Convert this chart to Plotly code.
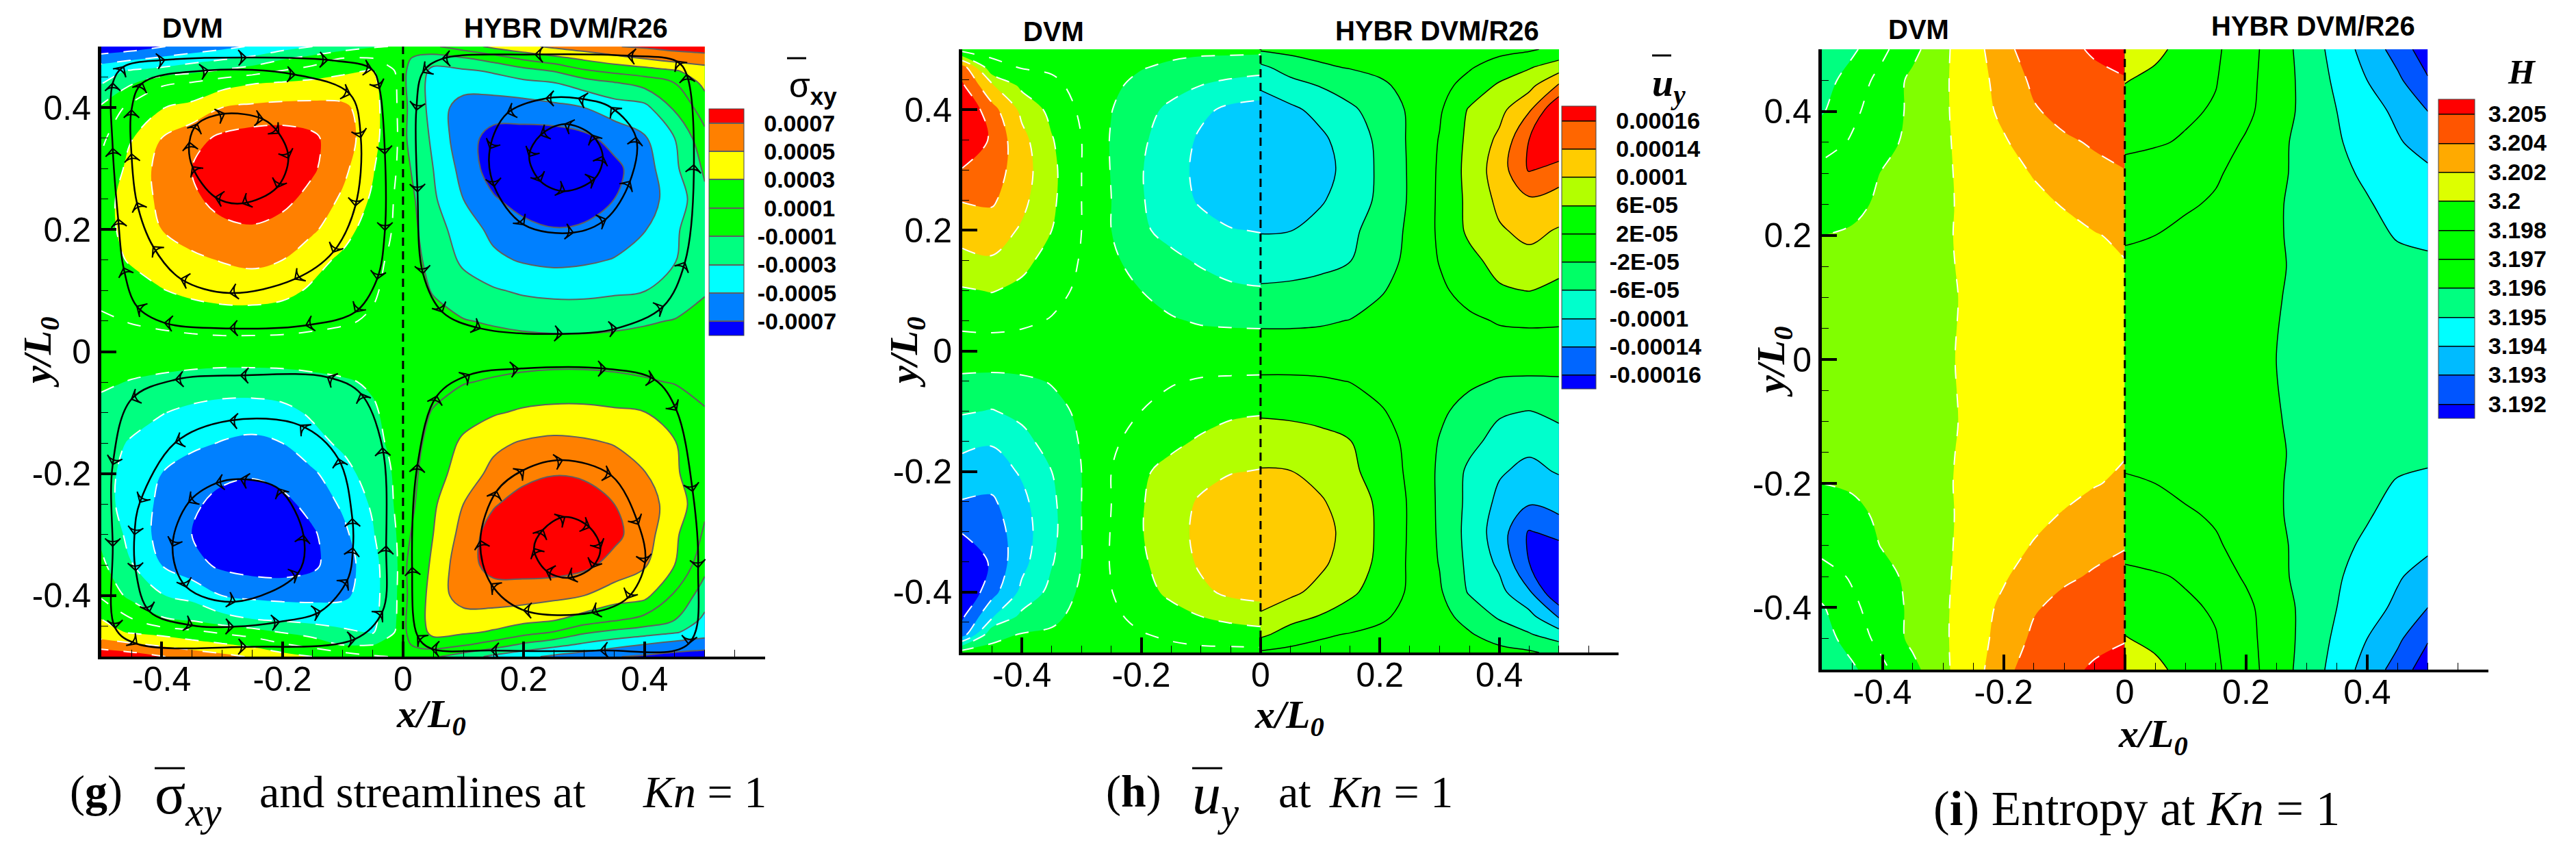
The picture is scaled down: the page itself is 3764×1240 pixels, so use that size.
import numpy as np
import plotly.graph_objects as go

W, H = 3764, 1240
PAGE = 8  # the page body sets the figure 8 px in from the corner

# panel (g): shear stress, in units of 1e-4
sxy_levels = [-7, -5, -3, -1, 1, 3, 5, 7]
sxy_labels = ["-0.0007", "-0.0005", "-0.0003", "-0.0001", "\u00a00.0001", "\u00a00.0003", "\u00a00.0005", "\u00a00.0007"]
sxy_colors = ["#0000ff", "#0080ff", "#00ffff", "#00ff80", "#00ff00", "#00ff00", "#ffff00", "#ff8000", "#ff0000"]
sxy_y = [.5, .48, .46, .44, .4, .35, .3, .25, .2, .15, .1, .05, 0, -.05, -.1, -.15, -.2, -.25, -.3, -.35, -.4, -.44, -.46, -.48, -.5]
sxy_left_x = [-.5, -.45, -.4, -.35, -.3, -.25, -.2, -.15, -.1, -.05, -.025, 0]
sxy_right_x = [0, .025, .05, .1, .15, .2, .25, .3, .35, .4, .45, .5]
sxy_left = [
    [-8.5, -8, -7.1, -6.3, -5.6, -4.8, -3.9, -3, -2.2, -1.2, -1, -.6],
    [-6, -5.3, -4.6, -3.9, -3.2, -2.5, -1.2, -.2, 1.2, 1.1, .5, .2],
    [-3.7, -2.8, -2.3, -1.5, -.7, .1, 1.1, 1.9, 2.5, 3.2, 1.4, .5],
    [-3.1, -1.2, .7, 1.2, 2.2, 2.9, 3.2, 3.5, 4, 3.7, 1.5, .6],
    [-.7, 1.6, 2.9, 3.6, 5, 5.4, 5.6, 5.6, 5.3, 4.2, 1.6, .6],
    [.6, 2.9, 5, 6.3, 7.4, 7.9, 8, 7.4, 5.8, 4, 1.7, .6],
    [1.4, 3.6, 5.7, 7, 8.2, 8.7, 8.5, 7.3, 5.5, 3.2, 1.5, .6],
    [2.2, 3.9, 5.4, 6.6, 7.7, 8, 7.6, 6.3, 4.7, 2.7, 1.3, .5],
    [2.5, 3.5, 5, 5.9, 6.5, 6.8, 6.2, 5.3, 3.8, 2, 1.2, .4],
    [2.2, 3.2, 4, 4.6, 5.1, 5.4, 5, 3.7, 2.6, 1.4, .9, .3],
    [1.6, 2.2, 2.9, 3.5, 3.9, 4, 3.6, 2.7, 1.8, 1.2, .7, .2],
    [.7, 1.1, 1.4, 1.7, 1.9, 1.9, 1.8, 1.5, 1.2, .8, .4, .1],
    [0, 0, 0, 0, 0, 0, 0, 0, 0, 0, 0, 0],
    [-.7, -1.1, -1.4, -1.7, -1.9, -1.9, -1.8, -1.5, -1.2, -.8, -.4, -.1],
    [-1.6, -2.2, -2.9, -3.5, -3.9, -4, -3.6, -2.7, -1.8, -1.2, -.7, -.2],
    [-2.2, -3.2, -4, -4.6, -5.1, -5.4, -5, -3.7, -2.6, -1.4, -.9, -.3],
    [-2.5, -3.5, -5, -5.9, -6.5, -6.8, -6.2, -5.3, -3.8, -2, -1.2, -.4],
    [-2.2, -3.9, -5.4, -6.6, -7.7, -8, -7.6, -6.3, -4.7, -2.7, -1.3, -.5],
    [-1.4, -3.6, -5.7, -7, -8.2, -8.7, -8.5, -7.3, -5.5, -3.2, -1.5, -.6],
    [-.6, -2.9, -5, -6.3, -7.4, -7.9, -8, -7.4, -5.8, -4, -1.7, -.6],
    [.7, -1.6, -2.9, -3.6, -5, -5.4, -5.6, -5.6, -5.3, -4.2, -1.6, -.6],
    [3.1, 1.2, -.7, -1.2, -2.2, -2.9, -3.2, -3.5, -4, -3.7, -1.5, -.6],
    [3.7, 2.8, 2.3, 1.5, .7, -.1, -1.1, -1.9, -2.5, -3.2, -1.4, -.5],
    [6, 5.3, 4.6, 3.9, 3.2, 2.5, 1.2, .2, -1.2, -1.1, -.5, -.2],
    [8.5, 8, 7.1, 6.3, 5.6, 4.8, 3.9, 3, 2.2, 1.2, 1, .6],
]
sxy_right = [
    [-.3, 0, .7, 2, 3.5, 4.5, 5.4, 6.1, 6.9, 7.3, 7.7, 8],
    [-.6, -1.4, -2, -1.3, -.2, 1.3, 2.3, 3.3, 4.2, 5, 5.8, 6.1],
    [-.7, -2, -3.6, -3.3, -2.8, -1.8, -.9, .7, 1.5, 2.1, 2.8, 4],
    [-.7, -2.2, -3.9, -4.1, -3.8, -3.5, -3.1, -2.1, -1.2, -.3, 1, 3.5],
    [-.6, -2, -3.9, -5.9, -6.2, -5.9, -5.5, -5, -4, -3.6, -.7, 2],
    [-.7, -1.9, -3.4, -6.3, -7.6, -7.9, -8, -7.5, -6.3, -5.2, -3, .4],
    [-.7, -1.3, -3, -5.7, -8, -8.5, -8.7, -8.5, -7.5, -5.9, -3.4, -.7],
    [-.6, -1.1, -2.7, -5, -6.8, -7.9, -8.3, -8, -7, -5.8, -4.2, -1.4],
    [-.6, -1, -2.1, -4, -5.5, -6.4, -6.9, -6.7, -6, -5.1, -3.3, -1.6],
    [-.5, -.8, -1.5, -3.4, -4.6, -5.2, -5.5, -5.3, -4.9, -4.1, -3.1, -1.6],
    [-.3, -.6, -1.1, -2.1, -2.8, -3.3, -3.5, -3.5, -3.3, -3.05, -2.3, -1.1],
    [-.2, -.3, -.5, -.9, -1.2, -1.5, -1.7, -1.7, -1.5, -1.2, -.9, -.6],
    [0, 0, 0, 0, 0, 0, 0, 0, 0, 0, 0, 0],
    [.2, .3, .5, .9, 1.2, 1.5, 1.7, 1.7, 1.5, 1.2, .9, .6],
    [.3, .6, 1.1, 2.1, 2.8, 3.3, 3.5, 3.5, 3.3, 3.05, 2.3, 1.1],
    [.5, .8, 1.5, 3.4, 4.6, 5.2, 5.5, 5.3, 4.9, 4.1, 3.1, 1.6],
    [.6, 1, 2.1, 4, 5.5, 6.4, 6.9, 6.7, 6, 5.1, 3.3, 1.6],
    [.6, 1.1, 2.7, 5, 6.8, 7.9, 8.3, 8, 7, 5.8, 4.2, 1.4],
    [.7, 1.3, 3, 5.7, 8, 8.5, 8.7, 8.5, 7.5, 5.9, 3.4, .7],
    [.7, 1.9, 3.4, 6.3, 7.6, 7.9, 8, 7.5, 6.3, 5.2, 3, -.4],
    [.6, 2, 3.9, 5.9, 6.2, 5.9, 5.5, 5, 4, 3.6, .7, -2],
    [.7, 2.2, 3.9, 4.1, 3.8, 3.5, 3.1, 2.1, 1.2, .3, -1, -3.5],
    [.7, 2, 3.6, 3.3, 2.8, 1.8, .9, -.7, -1.5, -2.1, -2.8, -4],
    [.6, 1.4, 2, 1.3, .2, -1.3, -2.3, -3.3, -4.2, -5, -5.8, -6.1],
    [.3, 0, -.7, -2, -3.5, -4.5, -5.4, -6.1, -6.9, -7.3, -7.7, -8],
]

# streamlines of panel (g), going round in the flow direction
ul_outer_x = [-.481, -.463, -.395, -.26, -.125, -.052, -.039, -.03, -.03, -.043, -.079, -.161, -.287, -.395, -.441, -.463, -.472, -.481, -.481]
ul_outer_y = [.44, .467, .478, .482, .478, .463, .431, .324, .199, .119, .065, .043, .038, .047, .074, .137, .217, .333, .44]
ul_mid_x = [-.45, -.432, -.323, -.179, -.088, -.07, -.079, -.116, -.179, -.287, -.368, -.414, -.441, -.45, -.45]
ul_mid_y = [.396, .44, .461, .454, .422, .351, .239, .163, .119, .096, .119, .172, .244, .324, .396]
ul_in_x = [-.354, -.341, -.296, -.232, -.206, -.19, -.209, -.266, -.311, -.349, -.354]
ul_in_y = [.343, .373, .39, .381, .358, .317, .269, .243, .253, .303, .343]
ur_outer_x = [.453, .372, .219, .065, .033, .022, .024, .033, .065, .128, .264, .354, .431, .467, .482, .47, .453]
ur_outer_y = [.476, .485, .487, .48, .458, .396, .262, .128, .065, .038, .029, .038, .074, .146, .306, .454, .476]
ur_mid_x = [.345, .291, .237, .173, .144, .151, .2, .282, .336, .376, .386, .345]
ur_mid_y = [.4, .415, .415, .391, .333, .271, .208, .195, .217, .279, .351, .4]
ur_in_x = [.268, .228, .209, .228, .268, .318, .331, .313, .268]
ur_in_y = [.373, .355, .32, .279, .263, .284, .32, .355, .373]
ll_outer_x = [-.125, -.269, -.377, -.45, -.481, -.481, -.477, -.441, -.26, -.079, -.034, -.028, -.034, -.07, -.125]
ll_outer_y = [-.042, -.039, -.046, -.078, -.185, -.319, -.453, -.479, -.484, -.471, -.426, -.319, -.158, -.069, -.042]
ll_mid_x = [-.17, -.287, -.377, -.436, -.445, -.443, -.42, -.349, -.281, -.205, -.137, -.092, -.083, -.084, -.107, -.17]
ll_mid_y = [-.121, -.113, -.149, -.247, -.3, -.359, -.426, -.449, -.451, -.443, -.426, -.374, -.322, -.274, -.176, -.121]
ll_in_x = [-.206, -.269, -.31, -.355, -.382, -.359, -.278, -.174, -.165, -.206]
ll_in_y = [-.225, -.209, -.216, -.247, -.319, -.386, -.41, -.363, -.301, -.225]
lr_outer_x = [.11, .191, .336, .417, .453, .48, .489, .473, .327, .146, .047, .024, .015, .024, .056, .11]
lr_outer_y = [-.038, -.028, -.028, -.046, -.096, -.229, -.354, -.479, -.49, -.49, -.487, -.466, -.354, -.185, -.073, -.038]
lr_mid_x = [.2, .264, .345, .39, .401, .372, .313, .2, .146, .128, .155, .2]
lr_mid_y = [-.194, -.178, -.203, -.283, -.346, -.404, -.428, -.424, -.381, -.31, -.229, -.194]
lr_in_x = [.268, .309, .327, .313, .273, .237, .217, .232, .268]
lr_in_y = [-.271, -.288, -.323, -.354, -.371, -.359, -.323, -.292, -.271]
streamlines = [
    (ul_outer_x, ul_outer_y), (ul_mid_x, ul_mid_y), (ul_in_x, ul_in_y),
    (ur_outer_x, ur_outer_y), (ur_mid_x, ur_mid_y), (ur_in_x, ur_in_y),
    (ll_outer_x, ll_outer_y), (ll_mid_x, ll_mid_y), (ll_in_x, ll_in_y),
    (lr_outer_x, lr_outer_y), (lr_mid_x, lr_mid_y), (lr_in_x, lr_in_y),
]

# panel (h): velocity, in units of 1e-5
uy_levels = [-16, -14, -10, -6, -2, 2, 6, 10, 14, 16]
uy_labels = ["-0.00016", "-0.00014", "-0.0001", "-6E-05", "-2E-05", "\u00a02E-05", "\u00a06E-05", "\u00a00.0001", "\u00a00.00014", "\u00a00.00016"]
uy_colors = ["#0000ff", "#0066ff", "#00ccff", "#00ffcc", "#00ff66", "#00ff00", "#00ff00", "#b3ff00", "#ffcc00", "#ff6600", "#ff0000"]
uy_y = [.5, .47, .44, .4, .35, .3, .25, .2, .15, .1, .05, 0, -.05, -.1, -.15, -.2, -.25, -.3, -.35, -.4, -.44, -.47, -.5]
uy_left_x = [-.5, -.45, -.4, -.35, -.3, -.25, -.2, -.15, -.1, -.05, 0]
uy_right_x = [0, .05, .1, .15, .2, .25, .3, .35, .4, .45, .5]
uy_left = [
    [0, 1, 1, .7, .5, 0, -.5, -1, -1, -1, -1],
    [15, 3, 1.8, 1.5, .5, -.5, -1.8, -2.6, -3.6, -4, -4.5],
    [16.3, 10.5, 5, 2.8, .9, -1.3, -3, -4.5, -6, -7.2, -8],
    [18, 14.7, 9, 4.8, 1.3, -1.9, -4.5, -6.9, -9.2, -10.8, -11.3],
    [19, 15.5, 11.2, 6.3, 2, -2.3, -5.4, -7.9, -10.6, -12.2, -13],
    [15.8, 15, 11.8, 7, 2, -2.2, -5.8, -8.4, -11, -12.6, -13.2],
    [14.1, 14.3, 11, 6.8, 2, -2, -5.7, -8.2, -10.5, -12, -12.5],
    [11.5, 12, 9.5, 6, 2, -2, -5.4, -7.2, -8.6, -9.8, -10.2],
    [9, 9.6, 7.2, 4.4, 1.7, -1.2, -3.8, -5.1, -6.5, -7.4, -7.8],
    [5.6, 6.2, 5, 3, 1.4, -.5, -2, -3.3, -4.4, -5.4, -5.7],
    [2.8, 3, 2.6, 1.8, .8, 0, -.8, -1.7, -2.3, -2.5, -2.6],
    [.5, .5, .4, .3, .1, 0, -.1, -.2, -.3, -.3, -.3],
    [-2.8, -3, -2.6, -1.8, -.8, 0, .8, 1.7, 2.3, 2.5, 2.6],
    [-5.6, -6.2, -5, -3, -1.4, .5, 2, 3.3, 4.4, 5.4, 5.7],
    [-9, -9.6, -7.2, -4.4, -1.7, 1.2, 3.8, 5.1, 6.5, 7.4, 7.8],
    [-11.5, -12, -9.5, -6, -2, 2, 5.4, 7.2, 8.6, 9.8, 10.2],
    [-14.1, -14.3, -11, -6.8, -2, 2, 5.7, 8.2, 10.5, 12, 12.5],
    [-15.8, -15, -11.8, -7, -2, 2.2, 5.8, 8.4, 11, 12.6, 13.2],
    [-19, -15.5, -11.2, -6.3, -2, 2.3, 5.4, 7.9, 10.6, 12.2, 13],
    [-18, -14.7, -9, -4.8, -1.3, 1.9, 4.5, 6.9, 9.2, 10.8, 11.3],
    [-16.3, -10.5, -5, -2.8, -.9, 1.3, 3, 4.5, 6, 7.2, 8],
    [-15, -3, -1.8, -1.5, -.5, .5, 1.8, 2.6, 3.6, 4, 4.5],
    [0, -1, -1, -.7, -.5, 0, .5, 1, 1, 1, 1],
]
uy_right = [
    [-1.5, -1, -.8, -.6, -.4, -.2, .2, .5, 1, 1.5, 3],
    [-7, -4, -2.5, -1.8, -1.2, -.5, .6, 1.7, 3.5, 5.7, 8],
    [-9.5, -7.7, -5.8, -4.2, -2.6, -1, .9, 3.2, 6.6, 8.7, 14.3],
    [-12, -10.7, -9, -6.7, -4.3, -1.5, 1.5, 6.4, 8.8, 13.5, 18],
    [-13.5, -12.5, -10.7, -8.4, -5.1, -1.5, 2.2, 7, 10.8, 16, 18.5],
    [-13.5, -12.7, -11.3, -8.8, -5.3, -1.6, 2.5, 7.3, 12, 16.2, 15],
    [-12.7, -11.7, -10.4, -8.3, -5.2, -1.6, 2.6, 7, 10.9, 13.4, 12.5],
    [-10.3, -10.1, -8.8, -6.8, -4.4, -1.3, 2.6, 6.8, 9.6, 11, 9.7],
    [-7.7, -7.5, -6.8, -6.1, -3.7, -1.1, 2.2, 4.9, 7.4, 8.9, 7.5],
    [-5.5, -5.3, -5.1, -4, -2.3, -.8, 1.3, 3.4, 5.5, 6.1, 5],
    [-2.6, -2.6, -2.4, -1.9, -1, -.4, .4, 1.3, 2.3, 2.5, 2.4],
    [-.3, -.3, -.3, -.2, -.1, 0, .1, .2, .3, .4, .4],
    [2.6, 2.6, 2.4, 1.9, 1, .4, -.4, -1.3, -2.3, -2.5, -2.4],
    [5.5, 5.3, 5.1, 4, 2.3, .8, -1.3, -3.4, -5.5, -6.1, -5],
    [7.7, 7.5, 6.8, 6.1, 3.7, 1.1, -2.2, -4.9, -7.4, -8.9, -7.5],
    [10.3, 10.1, 8.8, 6.8, 4.4, 1.3, -2.6, -6.8, -9.6, -11, -9.7],
    [12.7, 11.7, 10.4, 8.3, 5.2, 1.6, -2.6, -7, -10.9, -13.4, -12.5],
    [13.5, 12.7, 11.3, 8.8, 5.3, 1.6, -2.5, -7.3, -12, -16.2, -15],
    [13.5, 12.5, 10.7, 8.4, 5.1, 1.5, -2.2, -7, -10.8, -16, -18.5],
    [12, 10.7, 9, 6.7, 4.3, 1.5, -1.5, -6.4, -8.8, -13.5, -18],
    [9.5, 7.7, 5.8, 4.2, 2.6, 1, -.9, -3.2, -6.6, -8.7, -14.3],
    [7, 4, 2.5, 1.8, 1.2, .5, -.6, -1.7, -3.5, -5.7, -8],
    [1.5, 1, .8, .6, .4, .2, -.2, -.5, -1, -1.5, -3],
]

# panel (i): entropy
ent_levels = [3.192, 3.193, 3.194, 3.195, 3.196, 3.197, 3.198, 3.2, 3.202, 3.204, 3.205]
ent_labels = ["3.192", "3.193", "3.194", "3.195", "3.196", "3.197", "3.198", "3.2", "3.202", "3.204", "3.205"]
ent_colors = ["#0000ff", "#0055ff", "#00bbff", "#00ffff", "#00ff80", "#00ff00", "#00ff00", "#00ff00", "#ddff00", "#ffaa00", "#ff5500", "#ff0000"]
ent_left_colors = ["#0000ff", "#0055ff", "#00bbff", "#00ffff", "#00ff80", "#00ff00", "#00ff00", "#80ff00", "#ffff00", "#ffaa00", "#ff5500", "#ff0000"]
ent_y = [.5, .45, .4, .35, .3, .25, .2, .15, .1, 0, -.1, -.15, -.2, -.25, -.3, -.35, -.4, -.45, -.5]
ent_left_x = [-.5, -.45, -.4, -.35, -.3, -.25, -.2, -.15, -.1, -.05, 0]
ent_right_x = [0, .05, .1, .15, .2, .25, .3, .35, .4, .45, .5]
ent_left = [
    [3.1952, 3.1958, 3.1968, 3.1977, 3.1996, 3.2013, 3.2032, 3.2047, 3.2046, 3.2052, 3.2056],
    [3.1955, 3.1965, 3.1973, 3.1985, 3.1997, 3.2012, 3.2027, 3.2042, 3.2044, 3.2046, 3.2049],
    [3.1959, 3.1968, 3.1975, 3.1984, 3.1997, 3.2011, 3.2024, 3.2038, 3.2043, 3.2045, 3.2046],
    [3.1966, 3.1971, 3.1977, 3.1985, 3.1997, 3.2008, 3.2018, 3.2029, 3.2037, 3.2041, 3.2043],
    [3.1973, 3.1975, 3.1981, 3.1988, 3.1997, 3.2006, 3.2014, 3.2021, 3.2027, 3.2035, 3.2039],
    [3.1977, 3.1978, 3.1983, 3.1989, 3.1997, 3.2005, 3.2011, 3.2016, 3.2021, 3.2027, 3.203],
    [3.198, 3.1982, 3.1985, 3.1991, 3.1998, 3.2004, 3.2009, 3.2012, 3.2015, 3.2019, 3.2023],
    [3.1982, 3.1984, 3.1987, 3.1992, 3.1998, 3.2003, 3.2007, 3.201, 3.2013, 3.2016, 3.2019],
    [3.1984, 3.1986, 3.1989, 3.1993, 3.1998, 3.2002, 3.2006, 3.2009, 3.2012, 3.2014, 3.2016],
    [3.1986, 3.1988, 3.199, 3.1994, 3.1998, 3.2003, 3.2006, 3.2009, 3.2011, 3.2013, 3.2014],
    [3.1984, 3.1986, 3.1989, 3.1993, 3.1998, 3.2002, 3.2006, 3.2009, 3.2012, 3.2014, 3.2016],
    [3.1982, 3.1984, 3.1987, 3.1992, 3.1998, 3.2003, 3.2007, 3.201, 3.2013, 3.2016, 3.2019],
    [3.198, 3.1982, 3.1985, 3.1991, 3.1998, 3.2004, 3.2009, 3.2012, 3.2015, 3.2019, 3.2023],
    [3.1977, 3.1978, 3.1983, 3.1989, 3.1997, 3.2005, 3.2011, 3.2016, 3.2021, 3.2027, 3.203],
    [3.1973, 3.1975, 3.1981, 3.1988, 3.1997, 3.2006, 3.2014, 3.2021, 3.2027, 3.2035, 3.2039],
    [3.1966, 3.1971, 3.1977, 3.1985, 3.1997, 3.2008, 3.2018, 3.2029, 3.2037, 3.2041, 3.2043],
    [3.1959, 3.1968, 3.1975, 3.1984, 3.1997, 3.2011, 3.2024, 3.2038, 3.2043, 3.2045, 3.2046],
    [3.1955, 3.1965, 3.1973, 3.1985, 3.1997, 3.2012, 3.2027, 3.2042, 3.2044, 3.2046, 3.2049],
    [3.1952, 3.1958, 3.1968, 3.1977, 3.1996, 3.2013, 3.2032, 3.2047, 3.2046, 3.2052, 3.2056],
]
ent_right = [
    [3.2018, 3.2005, 3.1993, 3.1983, 3.1974, 3.1965, 3.1956, 3.1946, 3.1936, 3.1926, 3.1914],
    [3.2001, 3.1995, 3.1988, 3.1981, 3.1973, 3.1965, 3.1957, 3.1948, 3.194, 3.1932, 3.1921],
    [3.1992, 3.1988, 3.1983, 3.1979, 3.1972, 3.1965, 3.1957, 3.195, 3.1944, 3.1938, 3.193],
    [3.1984, 3.1982, 3.1979, 3.1974, 3.1969, 3.1963, 3.1956, 3.1951, 3.1946, 3.1941, 3.1936],
    [3.1977, 3.1975, 3.1973, 3.1971, 3.1967, 3.1962, 3.1957, 3.1953, 3.1948, 3.1944, 3.1942],
    [3.1974, 3.1973, 3.1971, 3.1969, 3.1965, 3.1961, 3.1957, 3.1954, 3.1951, 3.1946, 3.1945],
    [3.1971, 3.197, 3.1968, 3.1966, 3.1964, 3.1961, 3.1957, 3.1954, 3.1952, 3.19495, 3.1949],
    [3.1968, 3.1967, 3.1966, 3.1965, 3.1963, 3.1961, 3.1958, 3.1955, 3.1953, 3.1952, 3.1951],
    [3.1966, 3.1966, 3.1965, 3.1964, 3.1962, 3.19605, 3.1958, 3.1956, 3.1955, 3.1954, 3.1954],
    [3.1964, 3.1964, 3.1963, 3.1962, 3.1961, 3.196, 3.1958, 3.1957, 3.1956, 3.1955, 3.1955],
    [3.1966, 3.1966, 3.1965, 3.1964, 3.1962, 3.19605, 3.1958, 3.1956, 3.1955, 3.1954, 3.1954],
    [3.1968, 3.1967, 3.1966, 3.1965, 3.1963, 3.1961, 3.1958, 3.1955, 3.1953, 3.1952, 3.1951],
    [3.1971, 3.197, 3.1968, 3.1966, 3.1964, 3.1961, 3.1957, 3.1954, 3.1952, 3.19495, 3.1949],
    [3.1974, 3.1973, 3.1971, 3.1969, 3.1965, 3.1961, 3.1957, 3.1954, 3.1951, 3.1946, 3.1945],
    [3.1977, 3.1975, 3.1973, 3.1971, 3.1967, 3.1962, 3.1957, 3.1953, 3.1948, 3.1944, 3.1942],
    [3.1984, 3.1982, 3.1979, 3.1974, 3.1969, 3.1963, 3.1956, 3.1951, 3.1946, 3.1941, 3.1936],
    [3.1992, 3.1988, 3.1983, 3.1979, 3.1972, 3.1965, 3.1957, 3.195, 3.1944, 3.1938, 3.193],
    [3.2001, 3.1995, 3.1988, 3.1981, 3.1973, 3.1965, 3.1957, 3.1948, 3.194, 3.1932, 3.1921],
    [3.2018, 3.2005, 3.1993, 3.1983, 3.1974, 3.1965, 3.1956, 3.1946, 3.1936, 3.1926, 3.1914],
]

tick_vals = [-.4, -.2, 0, .2, .4]
tick_text = ["-0.4", "-0.2", "0", "0.2", "0.4"]
SANS = "Liberation Sans"
SERIF = "Liberation Serif"


def to_bands(z, levels):
    # levels are unevenly spaced, so contour on the level number
    z = np.array(z, dtype=float)
    out = np.interp(z, levels, np.arange(len(levels)))
    out += (z - levels[-1]).clip(min=0) / (levels[-1] - levels[-2])
    out -= (levels[0] - z).clip(min=0) / (levels[1] - levels[0])
    return out


def band_scale(colors):
    return [[i / (len(colors) - 1), c] for i, c in enumerate(colors)]


def px(x):
    return (x - PAGE) / W


def py(y):
    return 1 - (y - PAGE) / H


def halves(fig, sp, x, y, z, levels, colors, line, bar):
    contours = dict(start=0, end=len(levels) - 1, size=1, coloring="fill")
    fig.add_trace(go.Contour(x=x, y=y, z=to_bands(z, levels), xaxis=sp["x"], yaxis=sp["y"],
                             autocontour=False, contours=contours, colorscale=band_scale(colors),
                             line=line, showscale=bar is not None, colorbar=bar, hoverinfo="skip"))


def colorbar(left, top, bottom, width, levels, labels):
    return dict(x=px(left), xanchor="left", xpad=0, y=py(top), yanchor="top", ypad=0,
                len=bottom - top, lenmode="pixels", thickness=width, thicknessmode="pixels",
                tickmode="array", tickvals=list(range(len(levels))), ticktext=labels,
                ticks="outside", ticklen=13, tickcolor="rgba(0,0,0,0)",
                tickfont=dict(family=SANS, size=34, color="black", weight="bold"),
                outlinewidth=1, outlinecolor="#444444")


def add_axes(fig, n, left, right, top, bottom):
    common = dict(showline=True, linecolor="black", showgrid=False, zeroline=False, automargin=False,
                  ticks="inside", ticklen=22, tickwidth=4, tickcolor="black",
                  tickmode="array", tickvals=tick_vals, ticktext=tick_text,
                  tickfont=dict(family=SANS, size=50, color="black"),
                  minor=dict(ticks="inside", ticklen=10, tickwidth=1, tickcolor="black", dtick=.05, tick0=0))
    suffix = "" if n == 1 else str(n)
    fig.update_layout({
        "xaxis" + suffix: dict(common, domain=[px(left), px(right)], range=[-.5, .6], linewidth=4,
                               anchor="y" + suffix, ticklabelstandoff=-14),
        "yaxis" + suffix: dict(common, domain=[py(bottom), py(top)], range=[-.5, .5], linewidth=5,
                               anchor="x" + suffix, ticklabelstandoff=0),
    })


fig = go.Figure()
add_axes(fig, 1, 148, 1118, 68, 959)
add_axes(fig, 2, 1406, 2365, 72, 953)
add_axes(fig, 3, 2662, 3636, 72, 978)
sp1, sp2, sp3 = dict(x="x", y="y"), dict(x="x2", y="y2"), dict(x="x3", y="y3")

white = dict(color="white", width=2, dash="20px,22px", smoothing=1)
gray = dict(color="#5f5f5f", width=2, smoothing=1)
black = dict(color="black", width=1.5, smoothing=1)

halves(fig, sp1, sxy_left_x, sxy_y, sxy_left, sxy_levels, sxy_colors, white, None)
halves(fig, sp1, sxy_right_x, sxy_y, sxy_right, sxy_levels, sxy_colors, gray,
       colorbar(1036, 159, 490, 51, sxy_levels, sxy_labels))
halves(fig, sp2, uy_left_x, uy_y, uy_left, uy_levels, uy_colors, white, None)
halves(fig, sp2, uy_right_x, uy_y, uy_right, uy_levels, uy_colors, black,
       colorbar(2282, 155, 568, 50, uy_levels, uy_labels))
halves(fig, sp3, ent_left_x, ent_y, ent_left, ent_levels, ent_left_colors, white, None)
halves(fig, sp3, ent_right_x, ent_y, ent_right, ent_levels, ent_colors, black,
       colorbar(3563, 145, 611, 53, ent_levels, ent_labels))

for sx, sy in streamlines:
    fig.add_trace(go.Scatter(x=sx, y=sy, xaxis="x", yaxis="y", mode="lines+markers",
                             line=dict(color="black", width=2.5, shape="spline", smoothing=1),
                             marker=dict(symbol="arrow-wide-open", size=16, color="black", angleref="previous",
                                         line=dict(color="black", width=2)),
                             hoverinfo="skip"))

# block interface between the two solvers
for sp in (sp1, sp2, sp3):
    fig.add_trace(go.Scatter(x=[0, 0], y=[-.5, .5], xaxis=sp["x"], yaxis=sp["y"], mode="lines",
                             line=dict(color="black", width=3, dash="12px,8px"), hoverinfo="skip"))

XLAB = "<b><i>x/L<sub>0</sub></i></b>"
YLAB = "<b><i>y/L<sub>0</sub></i></b>"
# text, x, y, size, family, bold, x anchor, angle
notes = [
    ("DVM", 281, 41, 40, SANS, True, "center", 0), ("HYBR DVM/R26", 827, 41, 40, SANS, True, "center", 0),
    ("DVM", 1539, 46, 40, SANS, True, "center", 0), ("HYBR DVM/R26", 2100, 45, 40, SANS, True, "center", 0),
    ("DVM", 2803, 43, 40, SANS, True, "center", 0), ("HYBR DVM/R26", 3380, 38, 40, SANS, True, "center", 0),
    (XLAB, 630, 1046, 58, SERIF, False, "center", 0), (YLAB, 58, 514, 58, SERIF, False, "center", -90),
    (XLAB, 1884, 1047, 58, SERIF, False, "center", 0), (YLAB, 1324, 514, 58, SERIF, False, "center", -90),
    (XLAB, 3146, 1075, 58, SERIF, False, "center", 0), (YLAB, 2591, 528, 58, SERIF, False, "center", -90),
    ("\u03c3<sub><b>xy</b></sub>", 1188, 128, 50, SANS, False, "center", 0),
    ("<b><i>u<sub>y</sub></i></b>", 2438, 125, 56, SERIF, False, "center", 0),
    ("<b><i>H</i></b>", 3685, 105, 50, SERIF, False, "center", 0),
    ("(<b>g</b>)", 100, 1156, 66, SERIF, False, "left", 0),
    ("\u03c3<sub><i>xy</i></sub>", 224, 1166, 84, SERIF, False, "left", 0),
    ("and streamlines at", 377, 1156, 66, SERIF, False, "left", 0),
    ("<i>Kn</i> = 1", 937, 1156, 66, SERIF, False, "left", 0),
    ("(<b>h</b>)", 1614, 1156, 66, SERIF, False, "left", 0),
    ("<i>u<sub>y</sub></i>", 1740, 1166, 84, SERIF, False, "left", 0),
    ("at", 1866, 1156, 66, SERIF, False, "left", 0),
    ("<i>Kn</i> = 1", 1940, 1156, 66, SERIF, False, "left", 0),
    ("(<b>i</b>) Entropy at <i>Kn</i> = 1", 3122, 1181, 71, SERIF, False, "center", 0),
]
annotations = []
for text, x, y, size, family, bold, anchor, angle in notes:
    annotations.append(dict(text=text, x=px(x), y=py(y), xref="paper", yref="paper", showarrow=False,
                            xanchor=anchor, yanchor="middle", textangle=angle,
                            font=dict(family=family, size=size, color="black", weight="bold" if bold else "normal")))

# overbars of the colour-bar titles and the captions
bars = [(1150, 1178, 85), (2414, 2442, 81), (226, 270, 1122), (1742, 1786, 1122)]
shapes = [dict(type="line", xref="paper", yref="paper", x0=px(a), x1=px(b), y0=py(y), y1=py(y),
               line=dict(color="black", width=3)) for a, b, y in bars]

fig.update_layout(width=W, height=H, autosize=False, margin=dict(l=0, r=0, t=0, b=0),
                  paper_bgcolor="white", plot_bgcolor="white", showlegend=False,
                  annotations=annotations, shapes=shapes)
fig.write_html("out.html")
